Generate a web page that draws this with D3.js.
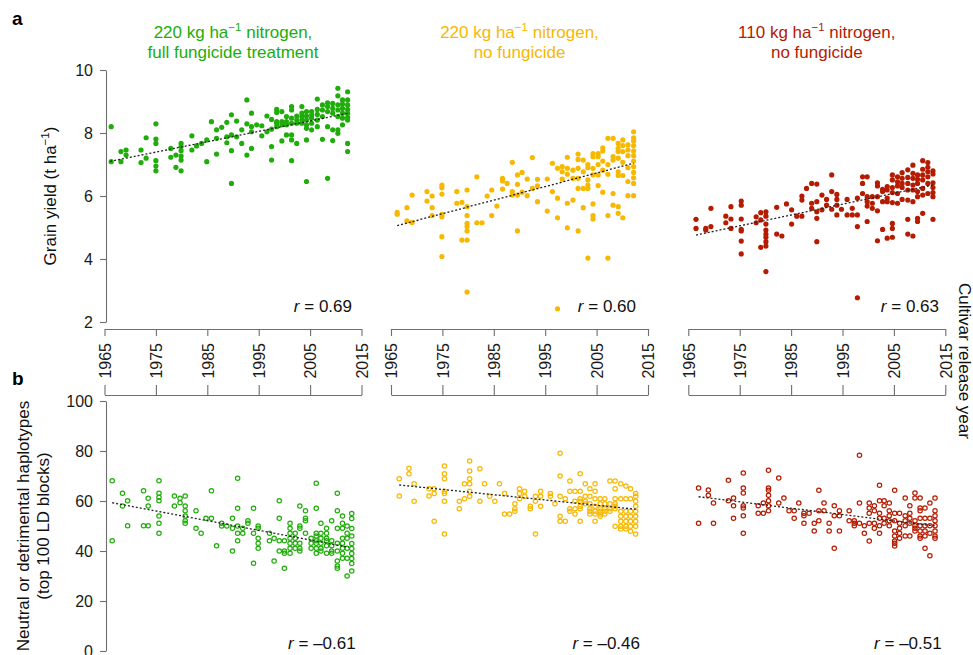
<!DOCTYPE html>
<html><head><meta charset="utf-8">
<script src="https://cdn.jsdelivr.net/npm/d3@7"></script>
<style>
body{margin:0;background:#fff}
svg{display:block}
text{font-family:"Liberation Sans",Arial,Helvetica,sans-serif}
</style>
</head><body>
<svg id="c" width="973" height="655"></svg>
<script>
// ---------- data (year, value, value, ...) ----------
const greenYield = [
[1966.3,8.20,7.09],[1968.2,7.41,7.09],[1969.2,7.46,7.30],[1972.1,7.46,7.06],[1973.1,7.85,7.20],
[1975.0,8.29,7.81,7.67,7.12,6.95,6.80],[1977.9,7.51,7.23],[1978.9,7.30,6.91],
[1979.9,7.67,7.57,7.44,7.27,7.14,6.80],[1982.0,7.91,7.46],[1982.9,7.59],[1983.9,7.67],
[1984.9,7.78,7.09],[1985.8,8.36],[1986.8,8.10,7.83,7.33],[1987.8,8.18],[1988.8,8.34,7.88,7.69],
[1989.7,8.58,7.94,7.44,6.40],[1990.7,8.38,7.88],[1991.7,8.10,7.67],[1992.7,9.05,8.29,7.30],
[1993.6,8.63,8.20,8.04,7.51],[1994.6,8.26],[1995.6,8.23,7.91],[1996.6,8.54,8.04],
[1997.5,8.43,8.12,7.57,7.14],[1998.5,8.75,8.65,8.36,8.31,8.20],[1999.5,8.68,8.36,8.26,7.75],
[2000.4,8.52,8.36,8.26,7.94],[2001.4,8.84,8.73,8.47,8.31,7.94,7.78,7.12],[2002.4,8.54,8.41,8.31,7.67],
[2003.4,8.84,8.63,8.52,8.41,8.31],[2004.3,8.68,8.54,8.41,8.26,8.15,7.78,6.46],
[2005.3,8.68,8.57,8.47,8.31,8.10],[2006.4,9.08,8.75,8.59,8.41,8.20],[2007.4,8.89,8.73,8.52,7.80],
[2008.4,8.96,8.84,8.68,8.20,6.56],[2009.4,8.94,8.78,8.63,8.10,7.76],
[2010.4,9.42,9.18,8.89,8.73,8.52,8.10,7.99],[2011.3,9.05,8.92,8.78,8.63,8.47,8.26],
[2012.3,9.31,9.05,8.89,8.75,8.63,8.50,8.41,7.67,7.41]
];
const yellowYield = [
[1966.2,5.48,5.42],[1968.1,5.63,5.21],[1969.1,6.03,5.16],[1972.0,6.14,5.84],[1973.0,6.00,5.63,5.38],
[1974.9,6.35,6.26,6.06,5.42,5.34,4.71,4.08],[1977.8,6.14,5.77],[1978.8,5.80,4.60],
[1979.8,6.19,5.66,5.38,5.13,5.03,4.89,4.60,2.95],[1981.7,6.61,5.15],[1982.7,5.15],[1983.7,6.00],
[1984.6,6.19,5.38],[1985.6,5.68],[1986.7,6.56,6.48,6.22],[1987.6,6.40],[1988.6,7.07,6.14,6.03],
[1989.6,6.67,6.37,6.03,4.89],[1990.5,6.75,6.12],[1991.5,6.54,6.01],[1992.5,7.22,6.24],
[1993.5,6.53,6.32,5.82],[1995.4,6.54,5.52],[1996.4,7.04,6.14],[1997.4,6.88,5.93,5.31,2.42],
[1998.3,6.93,6.77,6.54],[1999.3,7.23,6.88,6.69,5.77,4.99],[2000.4,6.82,6.56,5.87],
[2001.4,7.33,7.16,6.88,6.56,6.24,4.89],[2002.4,7.14,6.77,6.24,5.63],[2003.3,7.00,6.90,6.51,6.35,6.24,4.03],
[2004.3,7.35,7.25,6.88,6.67,5.75,5.38,5.27],[2005.3,7.35,7.25,7.00,6.67,6.33],
[2006.2,7.53,7.43,7.11,6.82,6.12],[2007.2,7.83,7.00,6.69,5.38,4.03],[2008.2,7.83,7.25,7.14,6.08,5.71],
[2009.2,7.67,7.51,7.41,7.20,6.77,6.65,5.66,5.45],[2010.1,7.78,7.60,7.41,7.07,6.65,5.31],
[2011.1,7.62,7.46,7.28,6.90,6.46,6.01],
[2012.2,8.04,7.85,7.75,7.60,7.43,7.28,7.11,6.93,6.75,6.58,6.40,6.01]
];
const redYield = [
[1966.5,5.26,4.97],[1968.4,4.97,4.92],[1969.4,5.61,5.03],[1972.3,5.36,5.15],[1973.3,5.66,5.27,4.97],
[1975.3,5.84,5.71,5.27,4.94,4.89,4.57,4.16],[1978.2,5.34,5.15],[1979.1,5.47,5.24,4.37],
[1980.1,5.50,5.36,5.11,4.92,4.79,4.69,4.55,4.41,3.60],[1982.2,5.64,4.79],[1983.2,4.73],[1984.1,5.75],
[1985.1,5.56,5.11],[1986.1,5.36],[1987.1,6.00,5.87,5.36],[1988.0,6.24],[1989.0,6.40,5.77,5.61],
[1990.0,6.38,5.82,5.50,5.29,4.55],[1991.0,6.03,5.56],[1991.9,5.89,5.71],[1992.9,6.67,6.14,5.58],
[1993.9,6.05,5.89,5.71,5.40],[1994.8,5.58],[1995.9,5.89,5.40],[1996.9,5.61,5.40],
[1997.9,5.93,5.40,5.03,2.77],[1998.9,6.61,6.40,6.08],[1999.8,6.61,5.98,5.82,5.68,5.19],
[2000.8,5.98,5.77,5.61],[2001.8,6.42,6.32,5.98,5.53,4.58],[2002.8,6.21,6.14,5.82,4.94],
[2003.7,6.30,6.19,5.93,5.82,4.66],[2004.7,6.67,6.51,6.27,6.11,5.79,5.13,4.97,4.69],
[2005.7,6.61,6.45,6.32,6.08,5.77],[2006.6,6.74,6.56,6.40,6.27,5.89],
[2007.7,6.83,6.59,6.40,6.19,5.87,5.26,4.79],[2008.7,6.98,6.72,6.56,6.35,6.19,5.82,4.73],
[2009.6,6.67,6.53,6.40,6.14,5.98,5.29,5.19],[2010.6,7.12,6.85,6.67,6.51,6.24,6.03,5.45],
[2011.6,7.06,6.91,6.77,6.61,6.40,6.08],[2012.6,6.80,6.70,6.42,6.27,6.11,5.98,5.26]
];
const greenHaplo = [
[1966.5,68.1,44.1],[1968.5,63.1,58.0],[1969.5,60.1,50.1],[1972.6,64.1,50.1],[1973.5,61.1,58.0,50.1],
[1975.6,68.1,63.1,61.5,60.1,54.0,51.1,47.1],[1978.6,62.0,58.0],[1979.7,61.1,59.3],
[1980.7,62.0,58.0,56.1,54.0,52.1,51.1],[1982.8,56.1,49.1],[1983.8,47.1],[1984.75,53.1],
[1985.8,64.1,53.1],[1986.8,42.1],[1987.8,51.1,50.0],[1988.8,50.0],[1989.9,53.1,49.1,40.0],
[1990.9,69.1,57.1,50.0,47.1,44.1],[1991.9,49.1,47.1],[1992.9,52.1,51.1],[1994.0,57.1,47.1,35.1],
[1994.9,50.0,49.1,45.1,43.1,41.1],[1997.1,47.1,44.1],[1998.0,45.1,36.0],[1999.0,60.1,53.1,44.1,40.0],
[2000.0,44.1,40.0,39.1,33.1],[2001.1,51.1,49.1,47.1,45.1,43.1,41.1,39.1],[2002.1,47.1,45.1,43.1,41.1],
[2003.0,58.0,50.0,49.1,43.1,41.1,40.0],[2004.1,56.1,53.1,52.1,47.1],[2005.2,45.1,43.1,41.1],
[2006.2,67.1,57.1,47.1,46.0,44.1,43.1,41.1,39.1],[2007.1,51.1,47.1,45.1,43.1,41.1,40.0],
[2008.2,49.1,47.1,45.1,44.1,42.1,39.1],[2009.2,52.1,44.1,42.1,40.0,39.1],
[2010.3,63.1,56.1,49.1,43.1,40.0,36.0,34.0,33.1],[2011.3,54.0,51.1,49.1,45.1,43.1,41.1,39.1,37.1],
[2012.2,50.0,47.1,45.1,41.1,37.1,30.0],[2013.1,55.0,53.0,49.0,46.0,43.0,41.0,39.0,37.0,35.0,32.0]
];
const yellowHaplo = [
[1966.6,68.9,62.0],[1968.5,73.1,70.9],[1969.5,66.9,59.9],[1972.4,64.9,62.0],[1973.4,64.9,63.0,51.9],
[1975.4,74.0,70.9,68.9,63.9,63.0,59.9,46.8],[1978.3,59.9,56.9],[1979.3,66.9,60.9],
[1980.3,76.0,72.0,68.9,66.9,63.9,61.9],[1982.3,72.9,59.9],[1983.2,66.9],[1984.2,61.9],[1985.2,59.9],
[1986.1,66.9],[1987.1,63.0,54.8],[1988.1,54.8],[1989.1,58.9,56.9,55.9],[1990.0,64.9,63.0,60.9],
[1991.0,63.9,61.9],[1992.1,57.9,56.9],[1993.1,61.9,59.9,46.8],[1994.1,63.9,61.9,57.9],
[1996.0,63.0,61.9],[1996.9,58.9],[1997.9,79.1,70.0,61.9,53.9,51.9],[1998.9,60.9,51.9],
[1999.8,68.0,63.9,56.9,55.9],[2000.8,63.9,59.9,56.9,54.8],[2001.8,70.9,63.9,60.9,59.9,57.9,56.9,51.9],
[2002.8,66.9,61.9,59.9,58.9],[2003.7,64.9,61.9,58.9,56.9,55.9,54.8],
[2004.7,66.9,63.9,60.9,57.9,55.9,54.8,51.9],[2005.7,60.9,58.9,56.9,55.9,54.8,53.9],
[2006.6,60.9,58.9,56.9,55.9,54.8],[2007.6,68.0,58.9,56.9,55.9],
[2008.6,68.0,64.9,60.9,58.9,57.9,56.9,49.9],[2009.7,66.9,60.9,55.9,53.9,51.9,49.9,48.8],
[2010.7,66.0,60.9,55.9,53.9,51.9,49.9,48.8],[2011.6,64.9,60.9,55.9,53.9,51.9,49.9,47.9],
[2012.6,63.0,61.9,59.9,57.9,55.9,53.9,51.9,49.9,46.8]
];
const redHaplo = [
[1967.0,65.2,51.1],[1968.9,64.4,62.3],[1969.9,59.2,51.1],[1972.8,68.3,60.1],[1973.8,61.2,58.1,53.1],
[1975.7,71.2,65.2,63.2,58.1,57.2,54.1,47.1],[1978.6,58.1,55.1],[1979.6,59.2,55.1],
[1980.6,72.3,65.2,64.3,62.3,60.1,58.1,56.1],[1982.6,69.2,59.2],[1983.6,61.2],[1984.6,56.1],
[1985.6,56.1,53.1],[1986.5,59.2],[1987.5,55.1,54.1,51.1],[1988.5,55.1],[1989.5,51.1,48.0],
[1990.4,64.3,56.1,52.1],[1991.4,59.2,56.1],[1992.4,51.1,48.0],[1993.4,58.1,54.1,41.1],
[1994.4,56.1,54.1,48.0],[1996.3,56.1,52.1],[1997.3,52.1,51.1,50.1],[1998.3,78.3,59.2,51.1],
[1999.25,50.1,47.1],[2000.2,59.2,57.2,55.1,51.1,44.0],[2001.2,58.1,56.1,51.1,49.1],
[2002.2,66.3,60.1,55.1,53.1,50.1,47.1],[2003.1,60.1,58.1,53.1,51.1],[2004.1,59.2,56.1,54.1,52.1,50.1],
[2005.15,64.3,55.1,52.1,48.0,46.0,44.0,43.1,42.0],[2006.1,55.1,51.1,49.1,47.1,45.1],
[2007.2,61.2,54.1,52.1,50.1,46.0],[2008.1,58.1,55.1,53.1,51.1,46.0],
[2009.1,63.2,61.2,52.1,50.1,49.1,48.0],[2010.1,61.2,57.2,56.1,53.1,50.1,48.0,46.0,45.1],
[2011.05,57.2,53.1,50.1,48.0,46.0,41.1],[2012.0,59.2,53.1,50.1,47.1,38.1],
[2013.0,61.2,56.1,54.1,52.1,50.1,48.0,46.0,45.1]
];
// fitted trend lines (end points)
const yieldTrends = [[[1966.1,7.10],[2012.5,8.63]],[[1966.2,5.06],[2012.2,7.04]],[[1966.5,4.76],[2012.7,6.35]]];
const haploTrends = [[[1966.5,59.3],[2012.5,41.5]],[[1966.6,66.4],[2012.6,56.7]],[[1967.0,61.7],[2013.0,50.0]]];
const yieldR = ["0.69","0.60","0.63"];
const haploR = ["\u20130.61","\u20130.46","\u20130.51"];
const titleLine1 = ["220 kg ha","220 kg ha","110 kg ha"];
const titleLine2 = ["full fungicide treatment","no fungicide","no fungicide"];
const yearTicks = [1965,1975,1985,1995,2005,2015];
const yieldTicks = [2,4,6,8,10];
const haploTicks = [0,20,40,60,80,100];

// ---------- layout ----------
const colors = ["#20ad0b","#f7b800","#b41b00"];
const panelLeft = [104.5, 391, 688.3];
const panelW = 257;
const axisGrey = "#6e6e6e";
const svg = d3.select("#c");
const yA = d3.scaleLinear().domain([2,10]).range([322,70]);
const yB = d3.scaleLinear().domain([0,100]).range([651,401]);
const flat = rows => rows.flatMap(r => r.slice(1).map(v => [r[0], v]));
const yieldSets = [greenYield, yellowYield, redYield];
const haploSets = [greenHaplo, yellowHaplo, redHaplo];
const rOffA = [247.5, 245, 250.7];
const rOffB = [251.2, 249, 253.4];

function styleAxis(g){
  g.selectAll("path.domain").attr("stroke", axisGrey).attr("stroke-width",1.1);
  g.selectAll(".tick line").attr("stroke", axisGrey).attr("stroke-width",1.1);
  g.selectAll(".tick text").attr("fill","#1a1a1a").attr("font-size",16)
    .attr("font-family",'"Liberation Sans",Arial,sans-serif');
}

for (let i=0;i<3;i++){
  const x = d3.scaleLinear().domain([1965,2015]).range([panelLeft[i], panelLeft[i]+panelW]);
  const col = colors[i];

  // titles
  const cx = panelLeft[i] + panelW/2;
  const t1 = svg.append("text").attr("x",cx).attr("y",37.5).attr("text-anchor","middle")
     .attr("fill",col).attr("font-size",17);
  t1.append("tspan").text(titleLine1[i]);
  t1.append("tspan").attr("font-size",11.5).attr("dy",-7).text("\u22121");
  t1.append("tspan").attr("dy",7).text(" nitrogen,");
  svg.append("text").attr("x",cx).attr("y",57.5).attr("text-anchor","middle")
     .attr("fill",col).attr("font-size",17).text(titleLine2[i]);

  // x axis of panel a (with labels)
  const gx = svg.append("g").attr("transform","translate(0,329)")
    .call(d3.axisBottom(x).tickValues(yearTicks).tickSize(7).tickSizeOuter(0).tickFormat(d3.format("d")));
  styleAxis(gx);
  gx.selectAll(".tick text").attr("transform","rotate(-90)").attr("text-anchor","end")
    .attr("x",-14).attr("y",0).attr("dy","0.36em");

  // x axis of panel b (top, no labels)
  const gx2 = svg.append("g").attr("transform","translate(0,395)")
    .call(d3.axisTop(x).tickValues(yearTicks).tickSize(10).tickSizeOuter(0).tickFormat(""));
  styleAxis(gx2);

  if (i===0){
    const gy = svg.append("g").attr("transform","translate(106,0)")
      .call(d3.axisLeft(yA).tickValues(yieldTicks).tickSize(6).tickPadding(7).tickSizeOuter(0));
    styleAxis(gy);
    const gy2 = svg.append("g").attr("transform","translate(106,0)")
      .call(d3.axisLeft(yB).tickValues(haploTicks).tickSize(6).tickPadding(7).tickSizeOuter(0));
    styleAxis(gy2);
  }

  // panel a points
  svg.append("g").selectAll("circle").data(flat(yieldSets[i])).join("circle")
    .attr("cx",d=>x(d[0])).attr("cy",d=>yA(d[1])).attr("r",2.6).attr("fill",col);
  // panel b points
  svg.append("g").selectAll("circle").data(flat(haploSets[i])).join("circle")
    .attr("cx",d=>x(d[0])).attr("cy",d=>yB(d[1])).attr("r",2.2)
    .attr("fill","none").attr("stroke",col).attr("stroke-width",1.2);

  // trend lines
  const lnA = d3.line().x(d=>x(d[0])).y(d=>yA(d[1]));
  const lnB = d3.line().x(d=>x(d[0])).y(d=>yB(d[1]));
  svg.append("path").attr("d",lnA(yieldTrends[i])).attr("fill","none")
    .attr("stroke","#222").attr("stroke-width",1.3).attr("stroke-dasharray","2,2");
  svg.append("path").attr("d",lnB(haploTrends[i])).attr("fill","none")
    .attr("stroke","#222").attr("stroke-width",1.3).attr("stroke-dasharray","2,2");

  // r labels
  const ra = svg.append("text").attr("x",panelLeft[i]+rOffA[i]).attr("y",311.5)
    .attr("text-anchor","end").attr("font-size",17).attr("fill","#111");
  ra.append("tspan").attr("font-style","italic").text("r");
  ra.append("tspan").text(" = " + yieldR[i]);
  const rb = svg.append("text").attr("x",panelLeft[i]+rOffB[i]).attr("y",649)
    .attr("text-anchor","end").attr("font-size",17).attr("fill","#111");
  rb.append("tspan").attr("font-style","italic").text("r");
  rb.append("tspan").text(" = " + haploR[i]);
}

// axis titles
const ylab = svg.append("text").attr("transform","translate(56,196) rotate(-90)")
  .attr("text-anchor","middle").attr("font-size",17).attr("fill","#111");
ylab.append("tspan").text("Grain yield (t ha");
ylab.append("tspan").attr("font-size",11.5).attr("dy",-7).text("\u22121");
ylab.append("tspan").attr("dy",7).text(")");

svg.append("text").attr("transform","translate(28.5,526) rotate(-90)")
  .attr("text-anchor","middle").attr("font-size",17).attr("fill","#111")
  .text("Neutral or detrimental haplotypes");
svg.append("text").attr("transform","translate(48.5,526) rotate(-90)")
  .attr("text-anchor","middle").attr("font-size",17).attr("fill","#111")
  .text("(top 100 LD blocks)");

svg.append("text").attr("transform","translate(959,361) rotate(90)")
  .attr("text-anchor","middle").attr("font-size",17).attr("fill","#111")
  .text("Cultivar release year");

svg.append("text").attr("x",12).attr("y",25).attr("font-size",19).attr("font-weight","bold").text("a");
svg.append("text").attr("x",12).attr("y",385).attr("font-size",19).attr("font-weight","bold").text("b");
</script>
</body></html>
